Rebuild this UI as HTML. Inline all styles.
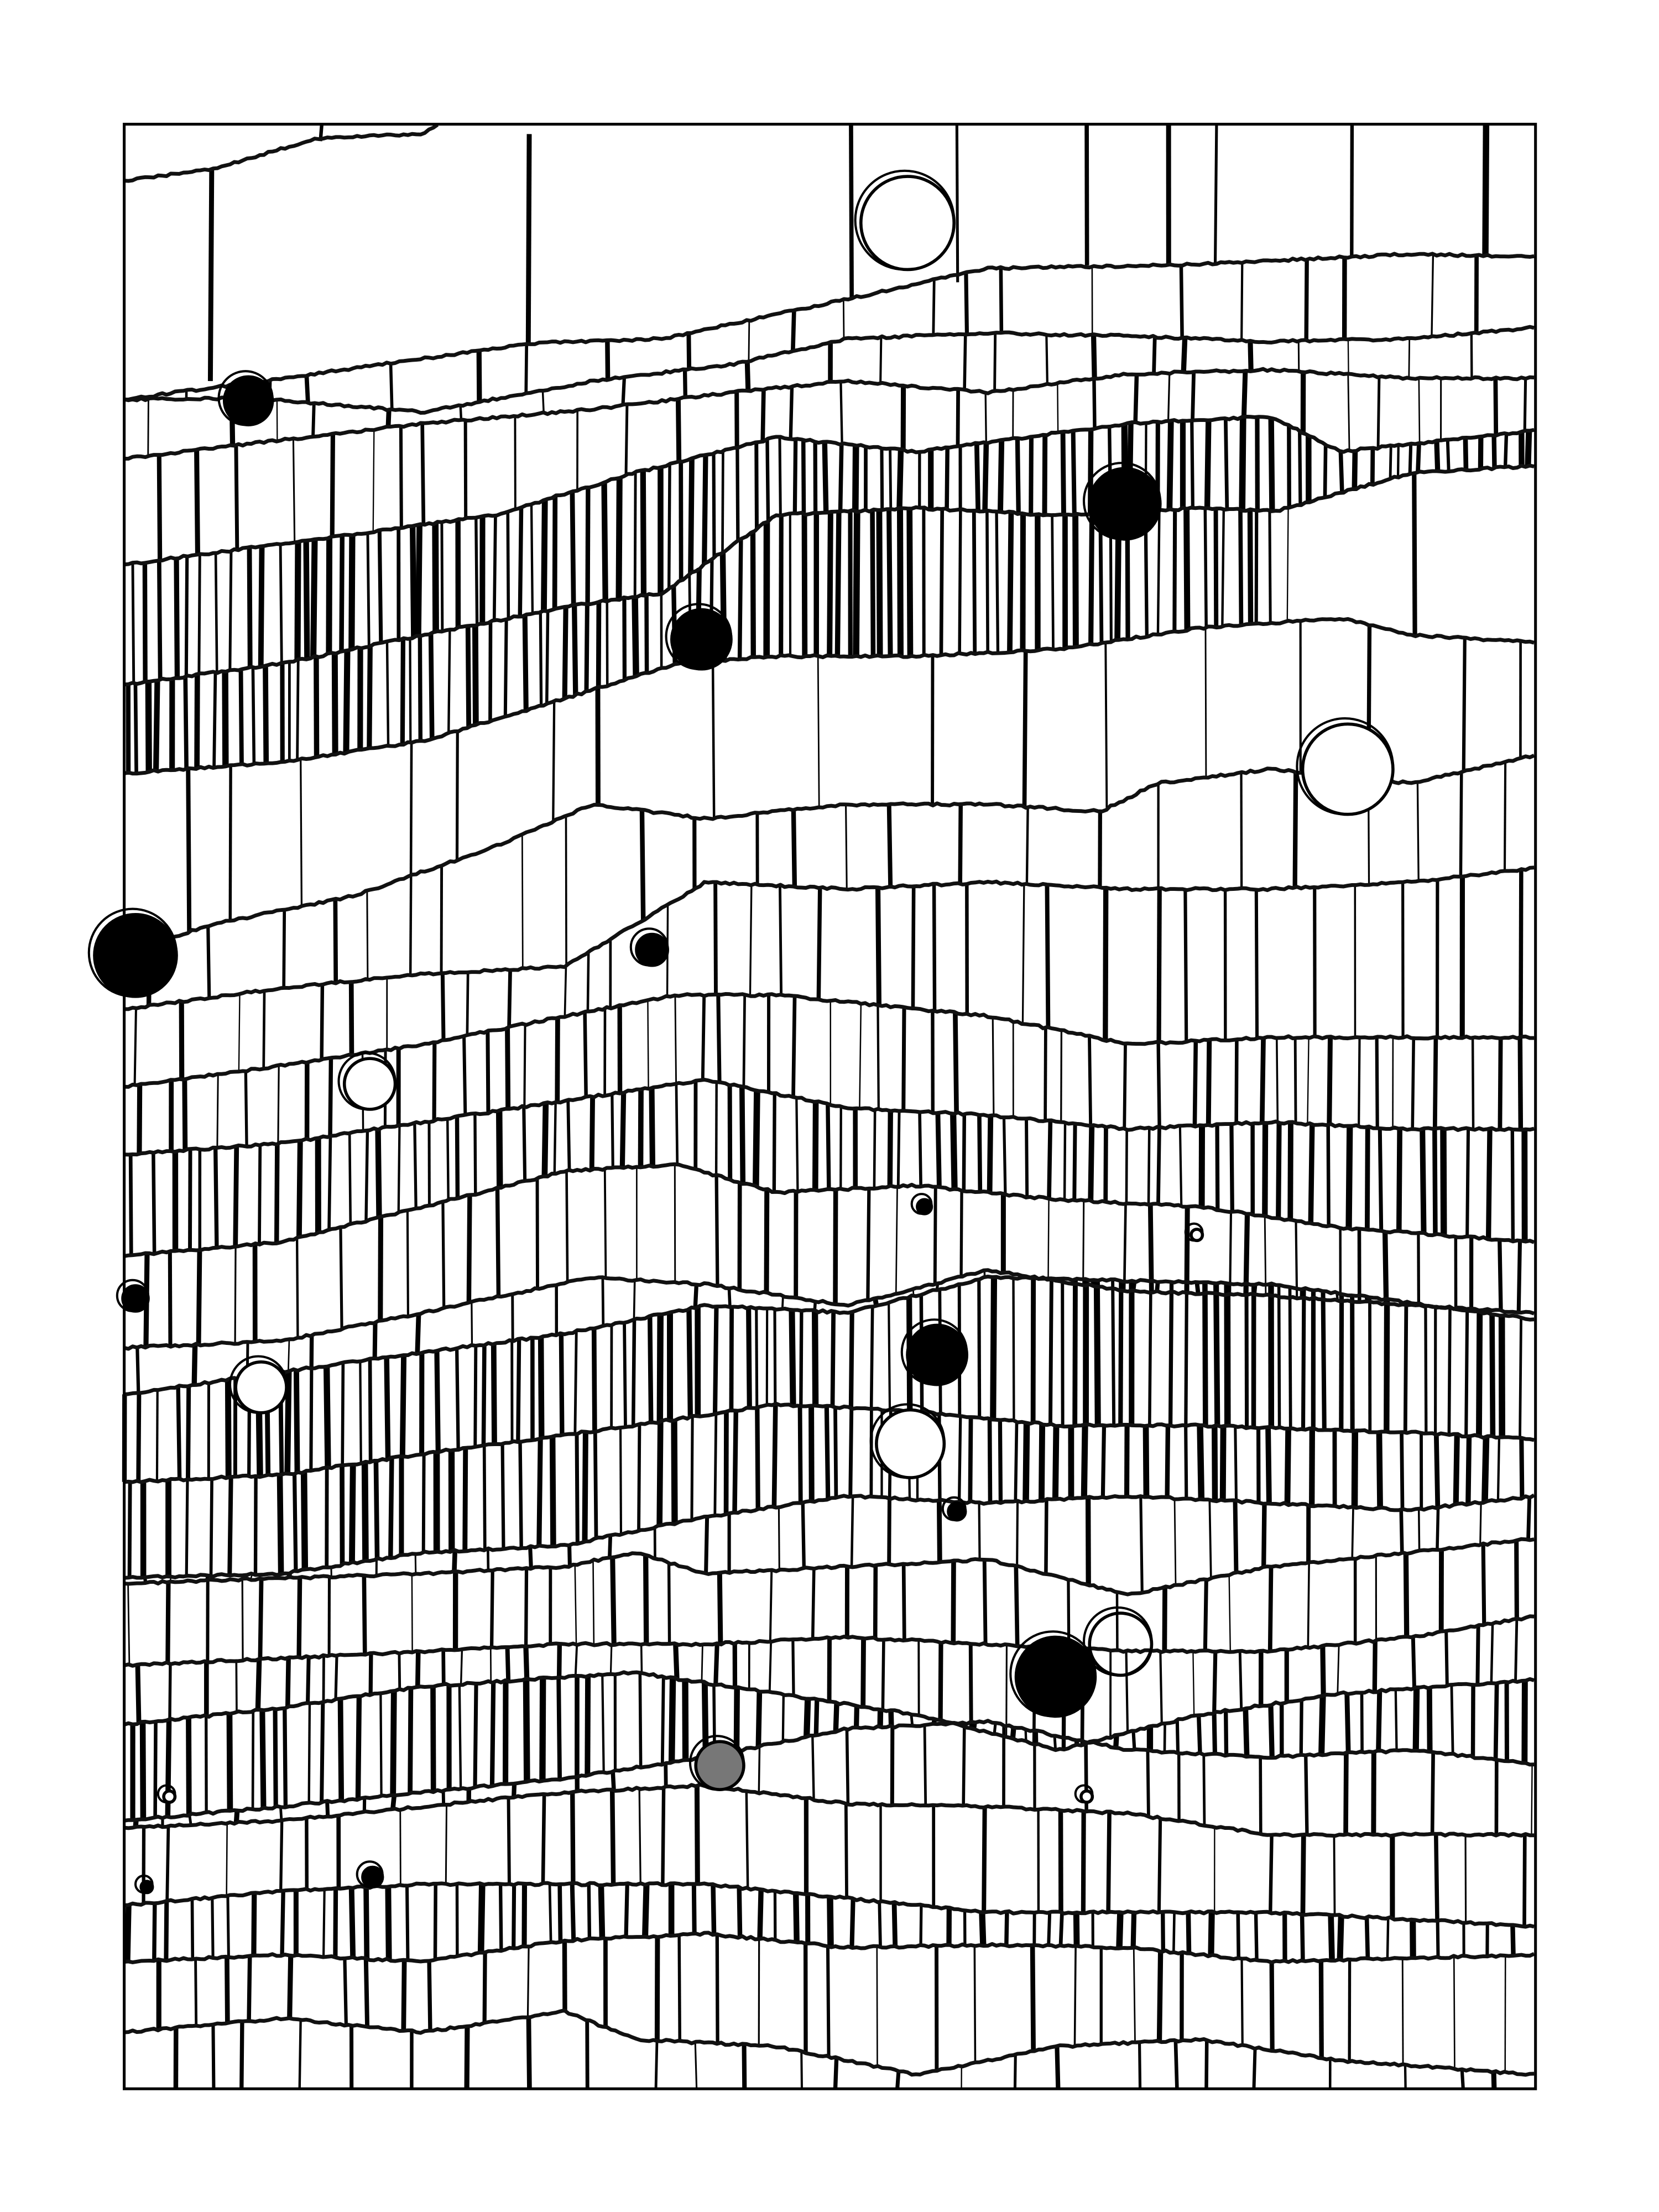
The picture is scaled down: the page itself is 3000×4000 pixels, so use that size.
<!DOCTYPE html>
<html><head><meta charset="utf-8">
<style>
html,body{margin:0;padding:0;background:#fff;}
svg{display:block;}
</style></head>
<body>
<svg id="s" xmlns="http://www.w3.org/2000/svg" width="3000" height="4000" viewBox="0 0 1175.5 1567.3" preserveAspectRatio="none">
<rect x="0" y="0" width="1175.5" height="1567.3" fill="#fff"/>
<g id="v" stroke="#000" stroke-linecap="butt"></g>
<g id="h" fill="none" stroke="#111" stroke-width="2.7" stroke-linejoin="round"></g>
<g id="c" stroke="#000" stroke-width="2.2"></g>
<rect x="88" y="88" width="1000" height="1392" fill="none" stroke="#000" stroke-width="2"/>
</svg>
<script>
(function(){
var NS="http://www.w3.org/2000/svg";
function mk(t,a){var e=document.createElementNS(NS,t);for(var k in a)e.setAttribute(k,a[k]);return e;}
var seed=12345;function rnd(){seed|=0;seed=seed+0x6D2B79F5|0;var t=Math.imul(seed^seed>>>15,1|seed);t=t+Math.imul(t^t>>>7,61|t)^t;return((t^t>>>14)>>>0)/4294967296;}
var L=[
[[88,283],[200,268],[380,243],[470,240],[600,212],[700,190],[830,188],[1000,180],[1088,182]],
[[88,283],[180,282],[300,292],[420,270],[520,258],[600,240],[700,236],[800,238],[900,242],[1000,240],[1088,232]],
[[88,325],[300,300],[420,290],[520,278],[600,270],[700,278],[800,265],[900,262],[1000,268],[1088,268]],
[[88,400],[240,380],[350,365],[450,335],[550,310],[650,320],[800,300],[900,295],[950,320],[1088,305]],
[[88,485],[200,470],[300,450],[400,430],[470,420],[550,365],[650,360],[750,365],[850,360],[905,362],[1000,335],[1088,330]],
[[88,548],[200,540],[300,525],[400,495],[480,470],[550,465],[650,465],[750,460],[850,445],[950,438],[1000,450],[1088,455]],
[[88,675],[150,655],[250,635],[350,600],[420,570],[500,580],[600,570],[700,570],[780,575],[820,555],[900,545],[1000,555],[1088,535]],
[[88,715],[200,700],[300,690],[400,685],[500,625],[600,630],[700,625],[800,630],[900,630],[1000,625],[1088,615]],
[[88,770],[200,755],[300,740],[400,720],[480,705],[550,705],[700,720],[800,740],[900,735],[1000,735],[1088,735]],
[[88,818],[200,810],[300,795],[400,780],[500,765],[600,785],[700,790],[800,800],[900,795],[1000,800],[1088,800]],
[[88,890],[200,880],[300,855],[400,830],[480,825],[550,845],[650,840],[750,850],[850,855],[950,870],[1088,880]],
[[88,955],[200,950],[300,930],[420,905],[500,910],[600,925],[700,900],[800,915],[900,918],[1000,925],[1088,930]],
[[88,988],[250,965],[400,945],[500,925],[600,930],[700,905],[900,910],[1088,935]],
[[88,1050],[200,1045],[300,1030],[450,1010],[550,995],[650,1000],[750,1010],[850,1010],[1000,1015],[1088,1020]],
[[88,1118],[200,1115],[300,1100],[400,1095],[500,1075],[600,1060],[700,1065],[800,1060],[900,1065],[1000,1070],[1088,1060]],
[[88,1122],[300,1115],[400,1110],[450,1100],[500,1115],[600,1110],[700,1105],[800,1130],[900,1110],[1000,1100],[1088,1090]],
[[88,1180],[200,1175],[300,1170],[400,1165],[500,1165],[600,1160],[700,1165],[800,1170],[900,1170],[1000,1160],[1088,1145]],
[[88,1222],[200,1210],[300,1195],[450,1185],[550,1200],[650,1215],[750,1240],[850,1215],[950,1200],[1088,1190]],
[[88,1290],[200,1280],[300,1270],[400,1260],[500,1245],[600,1225],[700,1220],[800,1240],[900,1245],[1000,1240],[1088,1250]],
[[88,1295],[200,1290],[300,1280],[400,1270],[500,1265],[600,1278],[700,1280],[800,1285],[900,1300],[1000,1300],[1088,1300]],
[[88,1350],[200,1340],[300,1335],[400,1335],[500,1335],[600,1345],[700,1355],[800,1355],[900,1355],[1000,1360],[1088,1365]],
[[88,1390],[200,1385],[300,1390],[400,1375],[500,1370],[600,1380],[700,1378],[800,1380],[900,1390],[1088,1385]],
[[88,1440],[200,1430],[300,1440],[400,1425],[450,1445],[550,1450],[650,1470],[750,1450],[850,1445],[950,1460],[1088,1470]],
[[88,1480],[1088,1480]]
];
var SP=[45,40,30,9,9,55,40,28,18,12,22,30,10,12,25,25,18,12,30,30,14,30,40];
function yat(l,x){for(var i=0;i<l.length-1;i++){if(x>=l[i][0]&&x<=l[i+1][0]){var t=(x-l[i][0])/(l[i+1][0]-l[i][0]);return l[i][1]+t*(l[i+1][1]-l[i][1]);}}return l[l.length-1][1];}
var vg=document.getElementById('v'),hg=document.getElementById('h'),cg=document.getElementById('c');
function vline(x,y1,y2,w){vg.appendChild(mk('line',{x1:x,y1:y1,x2:x+(rnd()-0.5)*2,y2:y2,'stroke-width':w}));}
for(var b=0;b<SP.length;b++){
  var x=88+rnd()*SP[b];
  while(x<1086){
    var sp=SP[b];
    if(b==4&&x>905)sp=60;
    var a=yat(L[b],x),c=yat(L[b+1],x);
    var y1=Math.min(a,c),y2=Math.max(a,c);
    var w=sp<15?(1.6+rnd()*3.0):(0.9+rnd()*2.8);
    if(y2-y1>2)vline(x,y1,y2,w);
    x+=sp*(0.5+rnd()*1.0);
  }
}
[[150,120,270,3.5],[375,95,243,3.5],[603,88,212,3],[678,88,200,2],[770,88,188,3],[828,88,188,3.5],[862,88,186,2],[958,88,182,2.5],[1053,88,182,4.5],[228,88,100,2.5]].forEach(function(p){vline(p[0],p[1],p[2],p[3]);});
function wpath(l){var d='M'+l[0][0]+' '+l[0][1];for(var x=l[0][0]+3;x<=l[l.length-1][0];x+=3){d+=' L'+x+' '+(yat(l,x)+(rnd()-0.5)*1.6).toFixed(1);}return d;}
hg.appendChild(mk('path',{d:wpath([[88,128],[150,120],[225,98],[300,95],[310,88]])}));
for(var i=0;i<L.length-1;i++)hg.appendChild(mk('path',{d:wpath(L[i])}));
var C=[[643,158,33,'#fff'],[176,284,17,'#000'],[797,357,25,'#000'],[497,453,21,'#000'],[955,545,32,'#fff'],[96,677,29,'#000'],[462,673,11,'#000'],[262,768,18,'#fff'],[96,920,9,'#000'],[185,983,18,'#fff'],[664,960,21,'#000'],[645,1023,24,'#fff'],[678,1071,6,'#000'],[748,1188,28,'#000'],[794,1165,22,'none'],[510,1251,17,'#777'],[848,875,4,'#fff'],[655,855,5,'#000'],[120,1273,4,'#fff'],[770,1273,4,'#fff'],[264,1330,7,'#000'],[104,1337,4,'#000']];
C.forEach(function(p){
  cg.appendChild(mk('circle',{cx:p[0]-2,cy:p[1]-2,r:p[2]+2,fill:'none','stroke-width':1.6}));
  cg.appendChild(mk('circle',{cx:p[0],cy:p[1],r:p[2],fill:p[3]}));
});
})();
</script>
</body></html>
